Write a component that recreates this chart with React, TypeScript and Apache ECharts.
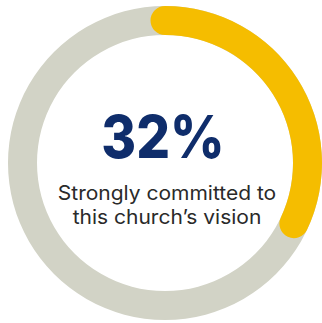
import React, { useEffect, useRef } from "react";
import * as echarts from "echarts";

const percentValue = [32];
const valueLabels = ["32%"];
const captionLines = ["Strongly committed to", "this church\u2019s vision"];

export default function App() {
  const ref = useRef<HTMLDivElement>(null);
  useEffect(() => {
    if (!ref.current) return;
    const chart = echarts.init(ref.current, null, { renderer: "svg" });
    chart.setOption({
      animation: false,
      backgroundColor: "#ffffff",
      series: [
        {
          type: "gauge",
          center: [165, 163],
          radius: 157,
          startAngle: 90,
          endAngle: -270,
          min: 0,
          max: 100,
          pointer: { show: false },
          axisTick: { show: false },
          splitLine: { show: false },
          axisLabel: { show: false },
          detail: { show: false },
          title: { show: false },
          axisLine: {
            lineStyle: { width: 29, color: [[1, "#d2d3c6"]] },
          },
          progress: {
            show: true,
            width: 29,
            roundCap: true,
            itemStyle: { color: "#f5bd00" },
          },
          data: percentValue.map((v) => ({ value: v })),
        },
      ],
      graphic: [
        {
          type: "text",
          x: 163,
          y: 137,
          scaleX: 0.9,
          style: {
            text: valueLabels[0],
            fontFamily: "Inter",
            fontWeight: 800,
            fontSize: 59,
            fill: "#0f2d6b",
            textAlign: "center",
            textVerticalAlign: "middle",
          },
        },
        ...captionLines.map((line, i) => ({
          type: "text",
          x: 167,
          y: 193 + i * 24,
          scaleX: 1.05,
          style: {
            text: line,
            fontFamily: "Inter",
            fontWeight: 400,
            fontSize: 20,
            fill: "#2a2a2a",
            textAlign: "center",
            textVerticalAlign: "middle",
          },
        })),
      ],
    });
    return () => chart.dispose();
  }, []);
  return (
    <div
      ref={ref}
      style={{ position: "fixed", left: 0, top: 0, width: 322, height: 323 }}
    />
  );
}
